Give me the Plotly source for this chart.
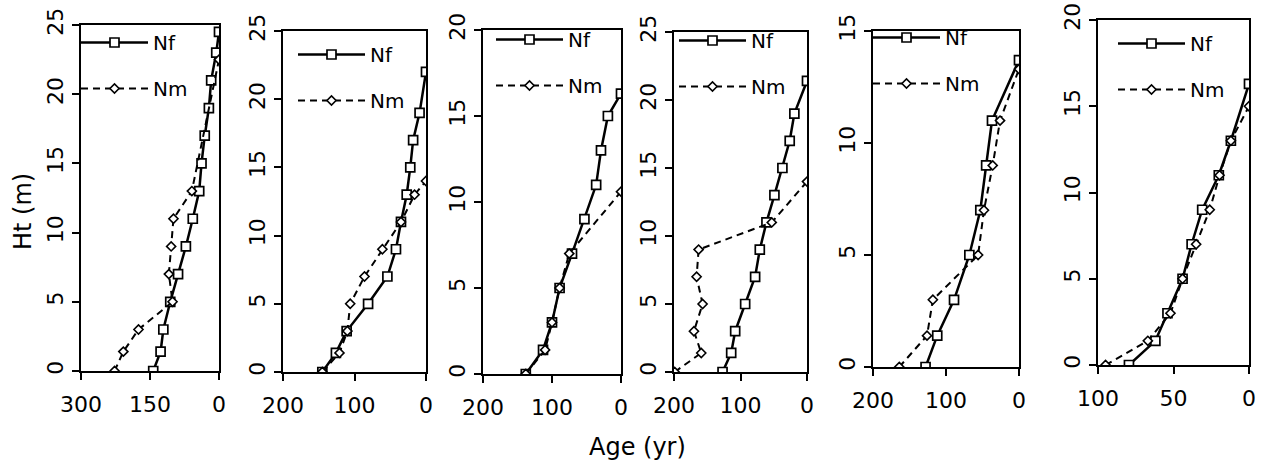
import plotly.graph_objects as go

W, H = 1262, 461

# ---- data (age in years, height in m) ----
nf_h1 = [0, 1.4, 3, 5, 7, 9, 11, 13, 15, 17, 19, 21, 23, 24.5]
nf_a1 = [143, 127, 121, 106, 89, 72, 57, 43, 38, 31, 22, 17, 6, 0]
nm_h1 = [0, 1.4, 3, 5, 7, 9, 11, 13, 22.5]
nm_a1 = [227, 208, 175, 101, 109, 104, 99, 59, 0]

nf_h2 = [0, 1.4, 3, 5, 7, 9, 11, 13, 15, 17, 19, 22]
nf_a2 = [145, 126, 111, 81, 54, 42, 35, 27, 22, 18, 9, 0]
nm_h2 = [0, 1.4, 3, 5, 7, 9, 11, 13, 14]
nm_a2 = [145, 121, 110, 106, 86, 61, 35, 16, 0]

nf_h3 = [0, 1.4, 3, 5, 7, 9, 11, 13, 15, 16.3]
nf_a3 = [138, 113, 100, 89, 71, 53, 36, 29, 19, 0]
nm_h3 = [0, 1.4, 3, 5, 7, 10.6]
nm_a3 = [138, 110, 100, 89, 75, 0]

nf_h4 = [0, 1.4, 3, 5, 7, 9, 11, 13, 15, 17, 19, 21.4]
nf_a4 = [127, 114, 108, 93, 78, 71, 61, 49, 37, 26, 19, 0]
nm_h4 = [0, 1.4, 3, 5, 7, 9, 11, 14]
nm_a4 = [199, 159, 170, 157, 166, 163, 53, 0]

nf_h5 = [0, 1.4, 3, 5, 7, 9, 11, 13.7]
nf_a5 = [128, 112, 89, 68, 53, 45, 37, 0]
nm_h5 = [0, 1.4, 3, 5, 7, 9, 11, 13.3]
nm_a5 = [164, 126, 118, 56, 48, 36, 26, 0]

nf_h6 = [0, 1.4, 3, 5, 7, 9, 11, 13, 16.3]
nf_a6 = [79.5, 62, 54, 44, 38, 31, 20, 12, 0]
nm_h6 = [0, 1.4, 3, 5, 7, 9, 11, 13, 15]
nm_a6 = [95, 67, 52, 44, 35, 26, 19.5, 12, 0]

x_max = [300, 200, 200, 200, 200, 100]
x_dtick = [150, 100, 100, 100, 100, 50]
y_max = [25, 25, 20, 25, 15, 20]

series = [
    (nf_a1, nf_h1, nm_a1, nm_h1),
    (nf_a2, nf_h2, nm_a2, nm_h2),
    (nf_a3, nf_h3, nm_a3, nm_h3),
    (nf_a4, nf_h4, nm_a4, nm_h4),
    (nf_a5, nf_h5, nm_a5, nm_h5),
    (nf_a6, nf_h6, nm_a6, nm_h6),
]

# ---- layout geometry (pixels) ----
dom_x = [(81, 219), (283, 426), (483, 621), (674, 807), (873, 1019), (1098, 1249)]
dom_y = [(25, 371), (31, 372), (30, 374), (32, 372), (31, 367), (20, 365)]
leg_pos = [(81, 42), (298, 54), (496, 39), (679, 40), (873, 37), (1118, 43)]

FONT = "DejaVu Sans"

fig = go.Figure()
layout = dict(
    width=W, height=H,
    margin=dict(l=0, r=0, t=0, b=0),
    paper_bgcolor="white", plot_bgcolor="white",
    template="none",
    font=dict(family=FONT, color="black", size=22),
)

for i, (nfa, nfh, nma, nmh) in enumerate(series):
    k = "" if i == 0 else str(i + 1)
    leg = "legend" if i == 0 else f"legend{i + 1}"
    fig.add_trace(go.Scatter(
        x=nfa, y=nfh, name="Nf", mode="lines+markers",
        xaxis="x" + k, yaxis="y" + k, legend=leg, legendgroup=f"nf{i}",
        line=dict(color="black", width=2.5),
        marker=dict(symbol="square", size=9, color="white",
                    line=dict(color="black", width=1.7)),
    ))
    fig.add_trace(go.Scatter(
        x=nma, y=nmh, name="Nm", mode="lines+markers",
        xaxis="x" + k, yaxis="y" + k, legend=leg, legendgroup=f"nm{i}",
        line=dict(color="black", width=2, dash="7px,5px"),
        marker=dict(symbol="diamond", size=7, color="white",
                    line=dict(color="black", width=1.6)),
    ))
    x0, x1 = dom_x[i]
    y0, y1 = dom_y[i]
    layout["xaxis" + k] = dict(
        domain=[x0 / W, x1 / W], anchor="y" + k,
        range=[x_max[i], 0], dtick=x_dtick[i], tick0=0,
        showline=True, linecolor="black", linewidth=1.6, mirror=True,
        ticks="outside", ticklen=7, tickwidth=1.6, tickcolor="black",
        showgrid=False, zeroline=False, ticklabelstandoff=6,
        tickfont=dict(family=FONT, size=22, color="black"),
    )
    layout["yaxis" + k] = dict(
        domain=[1 - y1 / H, 1 - y0 / H], anchor="x" + k,
        range=[0, y_max[i]], dtick=5, tick0=0,
        showline=True, linecolor="black", linewidth=1.6, mirror=True,
        ticks="outside", ticklen=7, tickwidth=1.6, tickcolor="black",
        showgrid=False, zeroline=False, tickangle=-90, ticklabelstandoff=0,
        tickfont=dict(family=FONT, size=22, color="black"),
    )
    lx, ly = leg_pos[i]
    layout[leg] = dict(
        x=(lx - 5) / W, y=1 - (ly - 19) / H, xanchor="left", yanchor="top",
        bgcolor="rgba(0,0,0,0)", borderwidth=0,
        itemwidth=67, tracegroupgap=17,
        font=dict(family=FONT, size=20, color="black"),
    )

layout["annotations"] = [
    dict(text="Age (yr)", x=637 / W, y=1 - 447 / H, xref="paper", yref="paper",
         xanchor="center", yanchor="middle",
         showarrow=False, font=dict(family=FONT, size=24, color="black")),
    dict(text="Ht (m)", x=23 / W, y=1 - 212 / H, xref="paper", yref="paper",
         xanchor="center", yanchor="middle",
         showarrow=False, textangle=-90, font=dict(family=FONT, size=24, color="black")),
]
layout["showlegend"] = True
fig.update_layout(**layout)
fig.write_html(
    "out.html",
    config={"displayModeBar": False},
    post_script="document.body.style.margin='0px';document.body.style.padding='0px';",
)
